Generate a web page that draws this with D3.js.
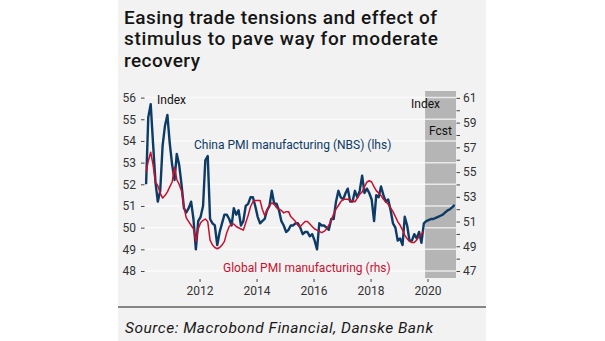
<!DOCTYPE html>
<html>
<head>
<meta charset="utf-8">
<script src="https://cdnjs.cloudflare.com/ajax/libs/d3/7.8.5/d3.min.js"></script>
<style>
  body { margin: 0; background: #fff; }
  svg { display: block; font-family: Roboto, "Open Sans", sans-serif; }
</style>
</head>
<body>
<svg width="605" height="341"></svg>
<script>
// --- data ---
var titleLines = ["Easing trade tensions and effect of", "stimulus to pave way for moderate", "recovery"];
var sourceText = "Source: Macrobond Financial, Danske Bank";
var leftTicks = [48, 49, 50, 51, 52, 53, 54, 55, 56];
var rightTicks = [47, 49, 51, 53, 55, 57, 59, 61];
var rightMinor = [48, 50, 52, 54, 56, 58, 60];
var yearTicks = [2012, 2014, 2016, 2018, 2020];

// China PMI manufacturing (NBS), monthly from Feb 2010 (lhs)
var chinaPmi = [
  52.0, 55.1, 55.7, 53.9, 52.1, 51.2, 51.7, 53.8, 54.7, 55.2, 53.9,
  52.9, 52.2, 53.4, 52.9, 52.0, 50.9, 50.7, 50.9, 51.2, 50.4, 49.0, 50.3,
  50.5, 51.0, 53.1, 53.3, 50.4, 50.2, 50.1, 49.2, 49.8, 50.2, 50.6, 50.6,
  50.4, 50.1, 50.9, 50.6, 50.8, 50.1, 50.3, 51.0, 51.1, 51.4, 51.4, 51.0,
  50.5, 50.2, 50.3, 50.4, 50.8, 51.0, 51.7, 51.1, 51.1, 50.8, 50.3, 50.1,
  49.8, 49.9, 50.1, 50.1, 50.2, 50.2, 50.0, 49.7, 49.8, 49.8, 49.6, 49.7,
  49.4, 49.0, 50.2, 50.1, 50.1, 50.0, 49.9, 50.4, 50.4, 51.2, 51.7, 51.4,
  51.3, 51.6, 51.8, 51.2, 51.2, 51.7, 51.4, 51.7, 52.4, 51.6, 51.8, 51.6,
  51.3, 50.3, 51.5, 51.4, 51.9, 51.5, 51.2, 51.3, 50.8, 50.2, 50.0, 49.4,
  49.5, 49.2, 50.5, 50.1, 49.4, 49.4, 49.7, 49.5, 49.8, 49.3, 50.2
];
// forecast, Dec 2019 - Dec 2020 (lhs)
var chinaFcst = [50.3, 50.35, 50.4, 50.4, 50.45, 50.5, 50.55, 50.6, 50.7, 50.8, 50.85, 50.95, 51.05];

// Global PMI manufacturing, monthly from Feb 2010 (rhs)
var globalPmi = [
  55.0, 55.9, 56.6, 55.6, 54.2, 53.9, 53.3, 52.9, 53.1, 53.4, 53.8,
  54.2, 55.4, 54.4, 54.0, 53.5, 52.2, 51.3, 51.0, 50.7, 50.4, 49.4, 50.4,
  50.9, 51.1, 51.2, 51.0, 49.5, 49.1, 48.9, 48.8, 48.9, 49.1, 49.4, 50.1,
  50.6, 50.8, 50.8, 50.6, 50.5, 50.4, 50.3, 50.9, 51.5, 52.2, 52.6, 52.7,
  52.7, 52.7, 52.0, 51.5, 51.9, 52.3, 52.5, 52.4, 52.1, 52.0, 51.9, 51.7,
  51.8, 51.8, 51.4, 51.2, 51.0, 50.7, 50.6, 50.8, 51.0, 51.0, 50.8, 50.6,
  50.4, 50.3, 50.2, 50.1, 50.2, 50.4, 50.7, 51.1, 51.6, 52.0, 52.3, 52.6,
  52.8, 52.8, 52.8, 52.7, 52.7, 52.6, 52.9, 53.2, 53.4, 53.8, 54.2, 54.3,
  54.2, 53.8, 53.5, 53.3, 53.1, 52.8, 52.6, 52.4, 52.1, 51.8, 51.4, 51.0,
  50.7, 50.3, 49.9, 49.6, 49.4, 49.3, 49.3, 49.5, 49.8, 50.0, 50.2
];

var startMonth = new Date(2010, 1, 15);
var fcstMonth = new Date(2019, 11, 15);

var svg = d3.select("svg"),
    width = +svg.attr("width"),
    height = +svg.attr("height");

// 背景パネル
svg.append("rect")
    .attr("x", 118).attr("y", 0)
    .attr("width", 368).attr("height", height)
    .attr("fill", "#f2f2f2");

// title (widths matched to the original)
var titleWidths = [313, 314, 76];
svg.append("g").selectAll("text")
    .data(titleLines)
    .enter().append("text")
      .attr("x", 124)
      .attr("y", function(d, i) { return 23.5 + i * 21.5; })
      .attr("font-size", "19px")
      .attr("font-weight", 500)
      .attr("fill", "#151515")
      .attr("textLength", function(d, i) { return titleWidths[i]; })
      .attr("lengthAdjust", "spacing")
      .text(function(d) { return d; });

// scales
var x = d3.scaleTime()
    .domain([new Date(2010, 1, 1), new Date(2020, 11, 31)])
    .range([145, 456]);
var yL = d3.scaleLinear().domain([48, 56]).range([271, 97.6]);
var yR = d3.scaleLinear().domain([47, 61]).range([271, 97.9]);

var chinaData = chinaPmi.map(function(v, i) { return {date: d3.timeMonth.offset(startMonth, i), value: v}; });
var fcstData = chinaFcst.map(function(v, i) { return {date: d3.timeMonth.offset(fcstMonth, i), value: v}; });
var globalData = globalPmi.map(function(v, i) { return {date: d3.timeMonth.offset(startMonth, i), value: v}; });

// forecast shade
svg.append("rect")
    .attr("x", x(new Date(2019, 11, 1)))
    .attr("y", 91)
    .attr("width", 456 - x(new Date(2019, 11, 1)))
    .attr("height", 187)
    .attr("fill", "#b5b5b5");

// gridlines
svg.append("g").selectAll("line")
    .data(leftTicks)
    .enter().append("line")
      .attr("x1", 145).attr("x2", 456)
      .attr("y1", function(d) { return yL(d); })
      .attr("y2", function(d) { return yL(d); })
      .attr("stroke", "#fff")
      .attr("stroke-opacity", 0.7)
      .attr("stroke-width", 1.5);

// axes
var axL = svg.append("g")
    .attr("transform", "translate(144.5,0)")
    .call(d3.axisLeft(yL).tickValues(leftTicks).tickSize(3.5).tickPadding(5));
var axR = svg.append("g")
    .attr("transform", "translate(456.5,0)")
    .call(d3.axisRight(yR).tickValues(rightTicks).tickSize(3.5).tickPadding(3));
var axR2 = svg.append("g")
    .attr("transform", "translate(456.5,0)")
    .call(d3.axisRight(yR).tickValues(rightMinor).tickSize(3.5).tickFormat(""));
var axX = svg.append("g")
    .attr("transform", "translate(0,279)")
    .call(d3.axisBottom(x).tickValues(yearTicks.map(function(y) { return new Date(y, 0, 1); }))
      .tickSize(3).tickPadding(4).tickFormat(d3.timeFormat("%Y")));

[axL, axR, axR2, axX].forEach(function(a) {
  a.select(".domain").remove();
  a.selectAll("line").attr("stroke", "#444");
  a.selectAll("text").attr("fill", "#333").attr("font-size", "12px")
      .attr("font-family", "Roboto, sans-serif");
});

// lines
var line = d3.line()
    .x(function(d) { return x(d.date); });

svg.append("path")
    .datum(chinaData.concat(fcstData))
    .attr("fill", "none")
    .attr("stroke", "#0d3b66")
    .attr("stroke-width", 2.4)
    .attr("stroke-linejoin", "round")
    .attr("d", line.y(function(d) { return yL(d.value); }));

svg.append("path")
    .datum(globalData)
    .attr("fill", "none")
    .attr("stroke", "#c8102e")
    .attr("stroke-width", 1.5)
    .attr("stroke-linejoin", "round")
    .attr("d", line.y(function(d) { return yR(d.value); }));

// labels
function label(txt, lx, ly, col) {
  svg.append("text")
      .attr("x", lx).attr("y", ly)
      .attr("font-size", "12px")
      .attr("fill", col)
      .text(txt);
}
label("Index", 157, 104, "#111");
label("Index", 411, 108, "#111");
label("Fcst", 429, 135, "#111");
label("China PMI manufacturing (NBS) (lhs)", 194, 149, "#0d3b66");
label("Global PMI manufacturing (rhs)", 223, 272, "#c8102e");

// separator + source
svg.append("line")
    .attr("x1", 118).attr("x2", 486)
    .attr("y1", 307).attr("y2", 307)
    .attr("stroke", "#858585")
    .attr("stroke-width", 2);

svg.append("text")
    .attr("x", 125).attr("y", 333)
    .attr("font-size", "15.5px")
    .attr("font-style", "italic")
    .attr("fill", "#1a1a1a")
    .attr("textLength", 308)
    .attr("lengthAdjust", "spacing")
    .text(sourceText);
</script>
</body>
</html>
